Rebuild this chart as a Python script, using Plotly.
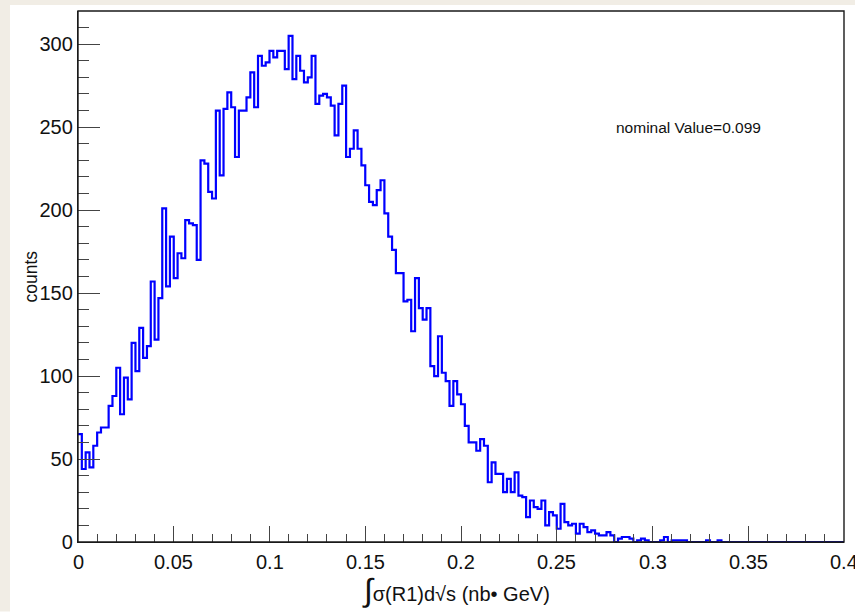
import numpy as np
import plotly.graph_objects as go

# Histogram: 200 bins over [0, 0.4]
x_min, x_max, n_bins = 0.0, 0.4, 200
counts = [
    65, 44, 54, 45, 58, 66, 69, 69, 82, 88,
    105, 77, 99, 86, 120, 103, 129, 111, 118, 157,
    122, 147, 201, 154, 184, 159, 174, 171, 194, 192,
    191, 170, 230, 228, 211, 207, 260, 221, 261, 271,
    262, 232, 260, 260, 268, 283, 262, 293, 287, 289,
    296, 292, 296, 296, 285, 305, 279, 293, 284, 277,
    280, 293, 264, 269, 270, 268, 263, 245, 264, 275,
    232, 237, 248, 237, 227, 215, 205, 203, 212, 218,
    198, 184, 176, 162, 162, 145, 146, 127, 159, 141,
    134, 141, 106, 100, 124, 102, 97, 82, 97, 89,
    83, 70, 60, 60, 55, 62, 58, 36, 48, 41,
    41, 30, 38, 30, 42, 28, 27, 15, 25, 21,
    20, 25, 10, 18, 16, 8, 23, 12, 10, 11,
    5, 11, 9, 6, 7, 5, 4, 4, 6, 4,
    0, 2, 3, 3, 2, 0, 1, 2, 1, 0,
    0, 0, 1, 3, 0, 1, 1, 1, 1, 0,
    0, 0, 0, 0, 1, 0, 0, 1, 0, 0,
    0, 0, 0, 0, 0, 0, 0, 0, 0, 0,
    0, 0, 0, 0, 0, 0, 0, 0, 0, 0,
    0, 0, 0, 0, 0, 0, 0, 0, 0, 0,
]
y_max = 320
x_ticks = [0, 0.05, 0.1, 0.15, 0.2, 0.25, 0.3, 0.35, 0.4]
x_ticklabels = ["0", "0.05", "0.1", "0.15", "0.2", "0.25", "0.3", "0.35", "0.4"]
y_ticks = [0, 50, 100, 150, 200, 250, 300]
x_title = "<span style='font-size:32px'>∫</span>σ(R1)d√s (nb• GeV)"
y_title = "counts"
note_text = "nominal Value=0.099"
note_pos = (0.28, 250)

edges = np.linspace(x_min, x_max, n_bins + 1)
step_y = list(counts) + [counts[-1]]

FONT = "Liberation Sans, Arial, Helvetica, sans-serif"
AXIS_COLOR = "#1a1a1a"
TICK_COLOR = "#444"
TEXT_COLOR = "#111"
BORDER = "#f1ede5"

fig = go.Figure()
fig.add_trace(go.Scatter(
    x=edges, y=step_y, mode="lines", line_shape="hv",
    line=dict(color="#0000ff", width=2.2),
    hoverinfo="skip", showlegend=False,
))

# Canvas layout in pixels
W, H = 855, 612
L, R, T, B = 78, 11, 11, 69.5
pw, ph = W - L - R, H - T - B


def px_x(px):
    return (px - L) / pw


def px_y(py):
    return (H - B - py) / ph


# x tick labels: the last one sits on the canvas edge, so all are drawn as
# annotations under the axis (the canvas edge clips the overflowing one)
tick_label_annotations = [
    dict(text=lab, x=v, y=px_y(H - B + 7), xref="x", yref="paper",
         xanchor="center", yanchor="top", showarrow=False,
         font=dict(size=20, family=FONT, color=TEXT_COLOR))
    for v, lab in zip(x_ticks, x_ticklabels)
]

fig.update_layout(
    width=W, height=H,
    margin=dict(l=L, r=R, t=T, b=B, pad=0),
    paper_bgcolor="white",
    plot_bgcolor="white",
    font=dict(family=FONT, color=TEXT_COLOR, size=18),
    shapes=[
        # canvas border strips (left and top)
        dict(type="rect", xref="paper", yref="paper", layer="below",
             x0=px_x(0), x1=px_x(10), y0=px_y(H), y1=px_y(0),
             fillcolor=BORDER, line=dict(width=0)),
        dict(type="rect", xref="paper", yref="paper", layer="below",
             x0=px_x(0), x1=px_x(W), y0=px_y(5), y1=px_y(0),
             fillcolor=BORDER, line=dict(width=0)),
        # frame around the plot area
        dict(type="rect", xref="paper", yref="paper", layer="above",
             x0=0, x1=1, y0=0, y1=1,
             fillcolor="rgba(0,0,0,0)", line=dict(color=AXIS_COLOR, width=1.4)),
    ],
    annotations=tick_label_annotations + [
        dict(text=note_text, x=note_pos[0], y=note_pos[1], xref="x", yref="y",
             xanchor="left", yanchor="middle", showarrow=False,
             font=dict(size=15.5, family=FONT, color=TEXT_COLOR)),
        dict(text=x_title, x=px_x(456), y=px_y(591), xref="paper", yref="paper",
             xanchor="center", yanchor="middle", showarrow=False,
             font=dict(size=20, family=FONT, color=TEXT_COLOR)),
        dict(text=y_title, x=px_x(30), y=0.5, xref="paper", yref="paper",
             xanchor="center", yanchor="middle", textangle=-90, showarrow=False,
             font=dict(size=17.5, family=FONT, color=TEXT_COLOR)),
    ],
)

fig.update_xaxes(
    range=[x_min, x_max], automargin=False,
    tickmode="array", tickvals=x_ticks, showticklabels=False,
    showgrid=False, zeroline=False,
    showline=True, mirror=False, linecolor=AXIS_COLOR, linewidth=1.4,
    ticks="inside", ticklen=16, tickwidth=1.3, tickcolor=TICK_COLOR,
    minor=dict(dtick=0.01, tick0=0, ticks="inside", ticklen=8, tickwidth=1.3,
               tickcolor=TICK_COLOR, showgrid=False),
)
fig.update_yaxes(
    range=[0, y_max], automargin=False,
    tickmode="array", tickvals=y_ticks,
    showgrid=False, zeroline=False,
    showline=True, mirror=False, linecolor=AXIS_COLOR, linewidth=1.4,
    ticks="inside", ticklen=22, tickwidth=1.3, tickcolor=TICK_COLOR,
    tickfont=dict(size=20, family=FONT, color=TEXT_COLOR),
    minor=dict(dtick=10, tick0=0, ticks="inside", ticklen=11, tickwidth=1.3,
               tickcolor=TICK_COLOR, showgrid=False),
)

fig.write_html("out.html")
